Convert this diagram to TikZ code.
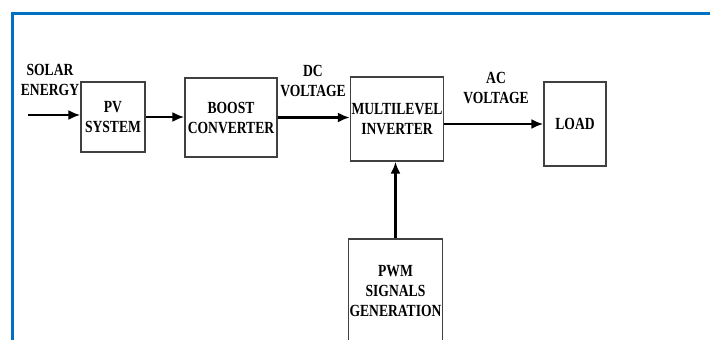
\documentclass[tikz,border=0pt]{standalone}
\usepackage{fontspec}
\newfontfamily\blockfont{Liberation Serif}[FakeStretch=0.8]
\usetikzlibrary{arrows.meta,positioning}
\definecolor{framecol}{RGB}{0,112,192}

\begin{document}
\begin{tikzpicture}[x=1pt,y=-1pt,
  every node/.style={font=\blockfont\fontsize{17}{20}\selectfont\bfseries, align=center},
  blk/.style={draw=black!75, line width=1.3pt, inner sep=1pt},
  flow/.style={line width=2.4pt, -{Latex[length=12pt,width=10pt]}}]
\clip (0,0) rectangle (710,340);
\draw[framecol, line width=3pt] (12,345) -- (12,13) -- (715,13);
\node[blk, minimum width=64pt, minimum height=70pt] (pv) at (113,117) {PV\\SYSTEM};
\node[blk, minimum width=92pt, minimum height=79pt] (boost) at (231,117.5) {BOOST\\CONVERTER};
\node[blk, minimum width=92pt, minimum height=84pt] (inv) at (397,119) {MULTILEVEL\\INVERTER};
\node[blk, minimum width=62pt, minimum height=84pt] (load) at (575,124) {LOAD};
\node[blk, minimum width=91pt, minimum height=104pt] (pwm) at (395.5,291) {PWM\\SIGNALS\\GENERATION};
\node (solar) at (50,80) {SOLAR\\ENERGY};
\node (dcv) at (313,81) {DC\\VOLTAGE};
\node (acv) at (496,88) {AC\\VOLTAGE};
\coordinate (src) at (28,115);
\draw[flow] (src) -- (src -| pv.west);
\draw[flow] (pv.east) -- (pv.east -| boost.west);
\draw[flow] (boost.east) -- (boost.east -| inv.west);
\draw[flow] (inv.east |- load.west) -- (load.west);
\draw[flow] (pwm.north) -- (pwm.north |- inv.south);
\end{tikzpicture}
\end{document}
